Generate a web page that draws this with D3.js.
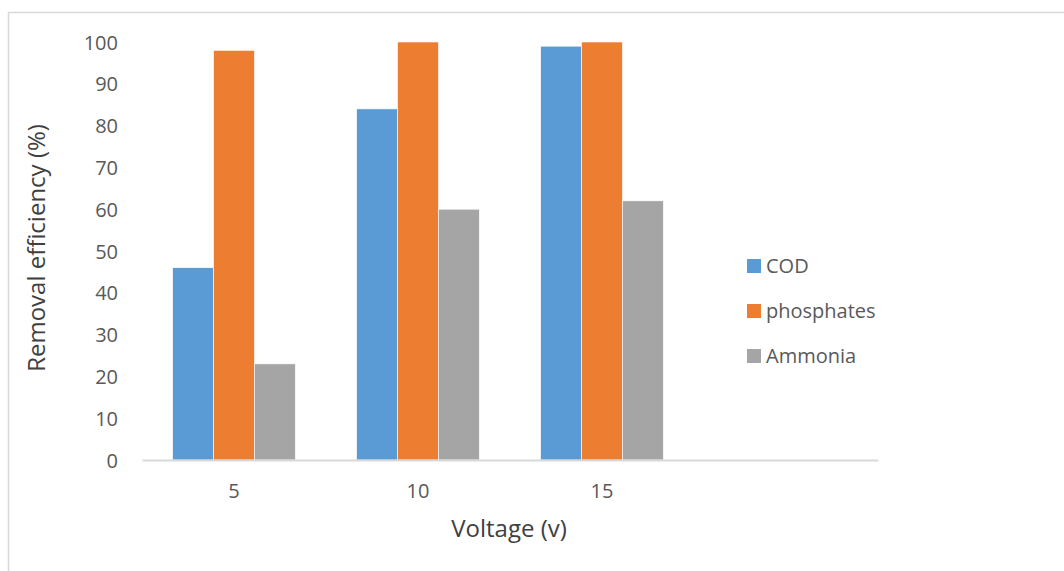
<!DOCTYPE html>
<html>
<head>
<meta charset="utf-8">
<script src="https://cdn.jsdelivr.net/npm/d3@7"></script>
<style>
  html, body { margin: 0; padding: 0; background: #fff; }
  svg { display: block; }
  text { font-family: "Open Sans", sans-serif; fill: #595959; }
</style>
</head>
<body>
<svg id="chart" width="1064" height="571"></svg>
<script>
// Voltage categories (last slot left empty, as in the original layout)
const categories = ["5", "10", "15", ""];
const seriesNames = ["COD", "phosphates", "Ammonia"];
const codValues = [46, 84, 99];
const phosphateValues = [98, 100, 100];
const ammoniaValues = [23, 60, 62];
const yTicks = [0, 10, 20, 30, 40, 50, 60, 70, 80, 90, 100];
const colors = ["#5B9BD5", "#ED7D31", "#A5A5A5"];

const seriesValues = [codValues, phosphateValues, ammoniaValues];

const svg = d3.select("#chart");

// outer chart frame
svg.append("rect")
  .attr("x", 8.5).attr("y", 12.5)
  .attr("width", 1100).attr("height", 600)
  .attr("fill", "none").attr("stroke", "#d9d9d9").attr("stroke-width", 1.5);

const plot = { left: 142, right: 878, top: 42, bottom: 460 };

const x = d3.scaleBand()
  .domain(categories)
  .range([plot.left, plot.right])
  .paddingInner(0).paddingOuter(0);

const xSub = d3.scaleBand()
  .domain(seriesNames)
  .range([0, x.bandwidth()])
  .paddingInner(0).paddingOuter(0.75);

const y = d3.scaleLinear().domain([0, 100]).range([plot.bottom, plot.top]);

// bars
seriesNames.forEach((name, si) => {
  svg.append("g")
    .selectAll("rect")
    .data(seriesValues[si].map((v, i) => ({ cat: categories[i], v })))
    .join("rect")
    .attr("x", d => x(d.cat) + xSub(name))
    .attr("y", d => y(d.v))
    .attr("width", xSub.bandwidth())
    .attr("height", d => y(0) - y(d.v))
    .attr("fill", colors[si])
    .attr("stroke", "#ffffff")
    .attr("stroke-width", 0.6);
});

// y axis (labels only)
const yAxis = d3.axisLeft(y).tickValues(yTicks).tickSize(0).tickPadding(0);
const gy = svg.append("g")
  .attr("transform", `translate(${plot.left - 24},0)`)
  .call(yAxis);
gy.select(".domain").remove();
gy.selectAll("text")
  .attr("font-size", 20)
  .attr("font-family", "Open Sans, sans-serif")
  .attr("fill", "#595959")
  .attr("dy", "0.35em");

// x axis
const xAxis = d3.axisBottom(x).tickSize(0).tickPadding(0);
const gx = svg.append("g")
  .attr("transform", `translate(0,${plot.bottom})`)
  .call(xAxis);
gx.select(".domain")
  .attr("stroke", "#d9d9d9").attr("stroke-width", 2);
gx.selectAll("text")
  .attr("font-size", 20)
  .attr("font-family", "Open Sans, sans-serif")
  .attr("fill", "#595959")
  .attr("y", 31)
  .attr("dy", "0.35em");

// axis titles
svg.append("text")
  .attr("x", 509)
  .attr("y", 529)
  .attr("dy", "0.35em")
  .attr("text-anchor", "middle")
  .attr("font-size", 24)
  .style("fill", "#404040")
  .text("Voltage (v)");

svg.append("text")
  .attr("transform", "translate(37,248) rotate(-90)")
  .attr("dy", "0.35em")
  .attr("text-anchor", "middle")
  .attr("font-size", 24)
  .style("fill", "#404040")
  .text("Removal efficiency (%)");

// legend
const legend = svg.append("g");
seriesNames.forEach((name, i) => {
  const cy = 266 + i * 45;
  legend.append("rect")
    .attr("x", 747).attr("y", cy - 7)
    .attr("width", 14).attr("height", 14)
    .attr("fill", colors[i]);
  legend.append("text")
    .attr("x", 766).attr("y", cy)
    .attr("dy", "0.35em")
    .attr("font-size", 20)
    .text(name);
});
</script>
</body>
</html>
